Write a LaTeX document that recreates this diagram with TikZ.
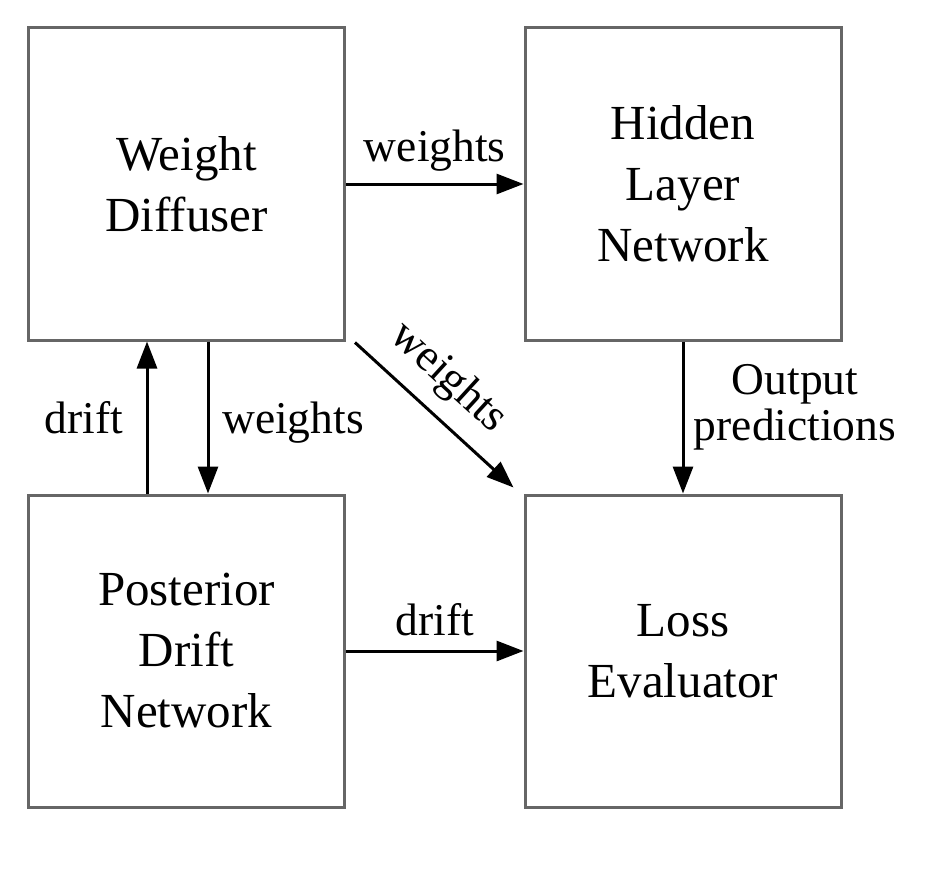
\documentclass[tikz,border=0pt]{standalone}
\usepackage{fontspec}
\setmainfont{Liberation Serif}
\usetikzlibrary{arrows.meta}
\definecolor{boxgray}{RGB}{102,102,102}
\begin{document}
\begin{tikzpicture}[x=1pt,y=-1pt,
  blockbox/.style={draw=boxgray, line width=3pt, minimum width=316pt, minimum height=312pt, inner sep=0pt, align=center, font=\fontsize{49}{61}\selectfont},
  arr/.style={line width=3pt, -{Triangle[length=27pt,width=20pt]}},
  lbl/.style={font=\fontsize{45.5}{46}\selectfont, inner sep=0pt}]
\useasboundingbox (0,0) rectangle (934,872);
\node[blockbox] (wd) at (186.5,184) {Weight\\Diffuser};
\node[blockbox] (hl) at (683,184) {Hidden\\Layer\\Network};
\node[blockbox] (pd) at (186.5,651) {Posterior\\Drift\\Network};
\node[blockbox] (le) at (683,651) {Loss\\Evaluator};
\draw[arr] (wd.east) -- node[lbl, anchor=base, yshift=23pt] {weights} (hl.west);
\draw[arr] ([shift={(9,1)}]wd.south east) -- node[lbl, pos=0.43, sloped, above=14pt] {weights} ([shift={(-10,-6)}]le.north west);
\draw[arr] ([xshift=-39.5pt]pd.north) -- node[lbl, anchor=base, xshift=-63pt, yshift=-16pt] {drift} ([xshift=-39.5pt]wd.south);
\draw[arr] ([xshift=21.5pt]wd.south) -- node[lbl, anchor=base, xshift=85pt, yshift=-16pt] {weights} ([xshift=21.5pt]pd.north);
\draw[arr] (hl.south) -- node[lbl, align=center, xshift=112pt, yshift=10.5pt] {Output\\predictions} (le.north);
\draw[arr] (pd.east) -- node[lbl, anchor=base, yshift=16pt] {drift} (le.west);
\end{tikzpicture}
\end{document}
